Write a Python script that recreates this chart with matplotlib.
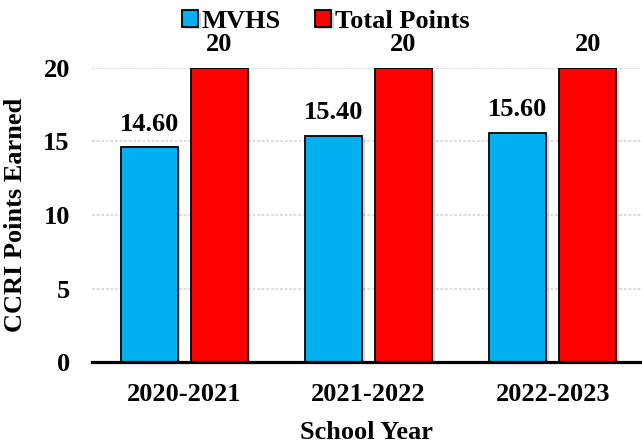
from matplotlib import pyplot as plt
import matplotlib.patheffects as pe
import numpy as np

years = ['2020-2021', '2021-2022', '2022-2023']
mvhs = [14.60, 15.40, 15.60]
total = [20, 20, 20]

plt.rcParams['font.family'] = ['Liberation Serif', 'DejaVu Serif']
plt.rcParams['font.weight'] = 'bold'

fig = plt.figure(figsize=(6.42, 4.45), dpi=100)
ax = fig.add_axes([92 / 642, 1 - 362 / 445, 1 - 92 / 642, (362 - 68) / 445])

x = np.arange(len(years))
w = 0.31
off = 0.19
shadow = [pe.SimplePatchShadow(offset=(2, -2), shadow_rgbFace='#808080', alpha=0.35), pe.Normal()]
b1 = ax.bar(x - off, mvhs, w, color='#00B0F0', edgecolor='black', linewidth=1.3, label='MVHS', zorder=3)
b2 = ax.bar(x + off, total, w, color='#FF0000', edgecolor='black', linewidth=1.3, label='Total Points', zorder=3)
for b in list(b1) + list(b2):
    b.set_path_effects(shadow)

for bars, vals, fmt in [(b1, mvhs, '{:.2f}'), (b2, total, '{:.0f}')]:
    for b, v in zip(bars, vals):
        ax.annotate(fmt.format(v), (b.get_x() + b.get_width() / 2, v), xytext=(0, 12),
                    textcoords='offset points', ha='center', va='baseline',
                    fontsize=19, fontweight='bold', annotation_clip=False)

ax.set_ylim(0, 20)
ax.set_xlim(-0.5, 2.485)
ax.set_yticks([0, 5, 10, 15, 20])
ax.set_xticks(x)
ax.set_xticklabels(years)
ax.tick_params(axis='both', length=0, labelsize=19)
ax.tick_params(axis='x', pad=15)
ax.tick_params(axis='y', pad=16)
ax.yaxis.grid(True, color='#d6d6d6', linewidth=1.1, linestyle=(0, (2, 1)), zorder=0)
ax.set_axisbelow(True)
for s in ['top', 'right', 'left']:
    ax.spines[s].set_visible(False)
ax.spines['bottom'].set_linewidth(2.3)
ax.spines['bottom'].set_zorder(4)

ax.set_xlabel('School Year', fontsize=19, fontweight='bold', labelpad=11)
ax.set_ylabel('CCRI Points Earned', fontsize=19, fontweight='bold', labelpad=12)

fig.legend(loc='center', bbox_to_anchor=(326 / 642, 1 - 21 / 445), ncol=2, frameon=False,
           fontsize=19, handlelength=0.6, handleheight=0.6, handletextpad=0.15,
           columnspacing=1.3, borderpad=0)

fig.savefig('out.png', dpi=100)
